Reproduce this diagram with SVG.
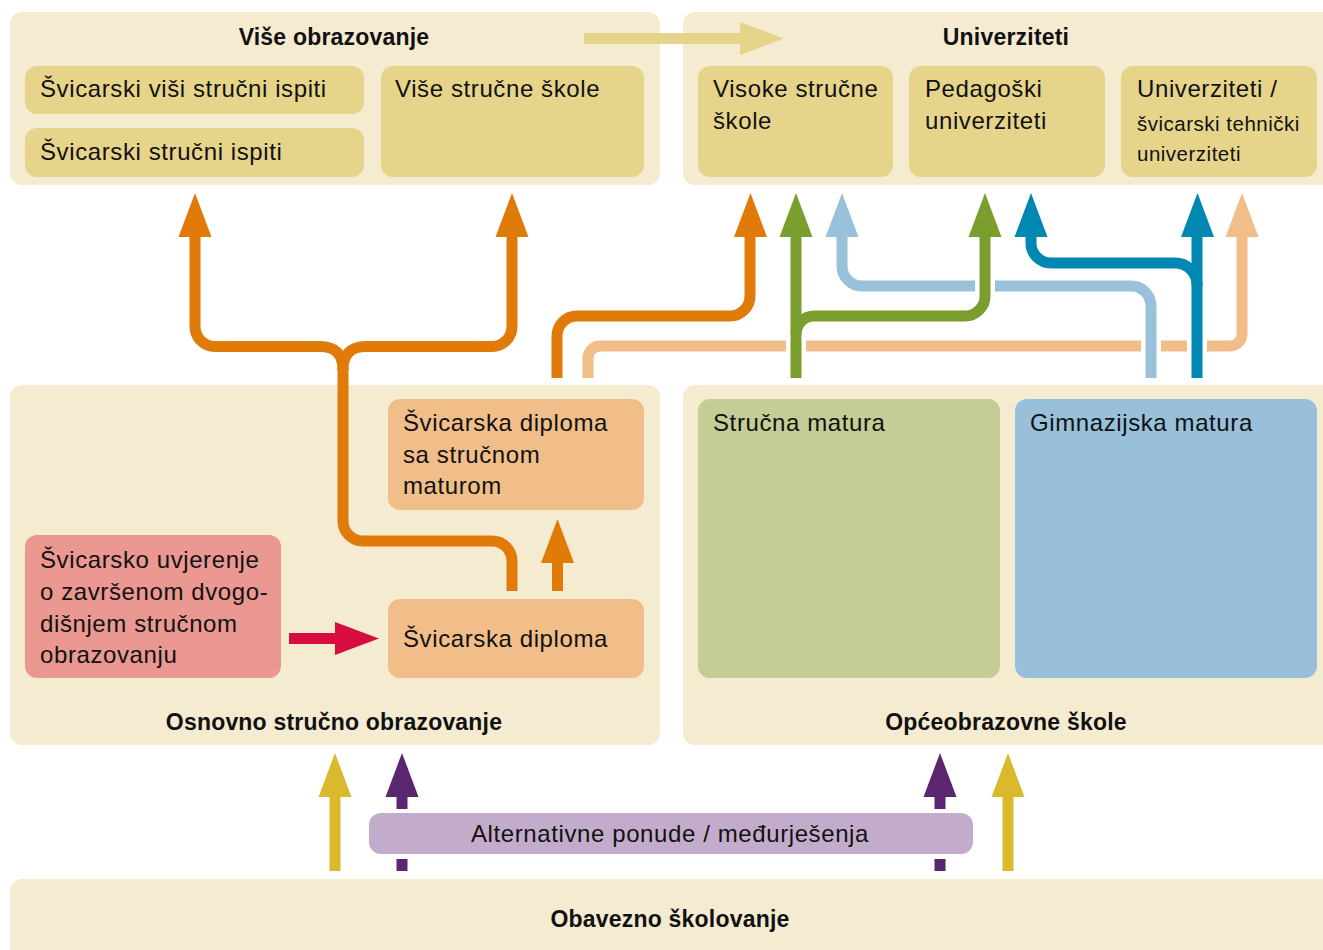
<svg xmlns="http://www.w3.org/2000/svg" xmlns:xlink="http://www.w3.org/1999/xlink" width="1323" height="950" viewBox="0 0 1323 950">
<style>
  text { font-family: "Liberation Sans", Arial, sans-serif; fill: #111; }
  .t { font-size: 24px; letter-spacing: 0.6px; }
  .ts { font-size: 20.5px; letter-spacing: 0.5px; }
  .h { font-size: 23px; font-weight: bold; text-anchor: middle; letter-spacing: 0.2px; }
  .c { text-anchor: middle; }
  .cont { fill: #F5EBD0; }
  .gold { fill: #E7D48B; }
  .peachbox { fill: #F1BE8A; }
  .line { fill: none; stroke-width: 11; stroke-linecap: butt; }
  .halo { fill: none; stroke: #FFFFFF; stroke-width: 20; }
  .or { stroke: #E07B0A; } .pe { stroke: #F1BE8A; } .gr { stroke: #7A9E2E; }
  .lb { stroke: #9AC1DA; } .bl { stroke: #0088B3; } .ye { stroke: #DAB92D; }
  .pu { stroke: #5B2670; } .rd { stroke: #D60D3E; } .go { stroke: #E7D48B; }
</style>
<defs>
  <path id="head" d="M0,0 L16.5,44 L-16.5,44 Z"/>
</defs>

<g id="vise-obrazovanje">
  <rect class="cont" x="10" y="12" width="650" height="173" rx="12"/>
  <text class="h" x="334" y="45">Više obrazovanje</text>
</g>
<g id="visi-strucni-ispiti">
  <rect class="gold" x="25" y="66" width="339" height="48" rx="12"/>
  <text class="t" x="40" y="97">Švicarski viši stručni ispiti</text>
</g>
<g id="strucni-ispiti">
  <rect class="gold" x="25" y="128" width="339" height="49" rx="12"/>
  <text class="t" x="40" y="160">Švicarski stručni ispiti</text>
</g>
<g id="vise-strucne-skole">
  <rect class="gold" x="381" y="66" width="263" height="111" rx="12"/>
  <text class="t" x="395" y="97">Više stručne škole</text>
</g>

<g id="univerziteti">
  <rect class="cont" x="683" y="12" width="660" height="173" rx="12"/>
  <text class="h" x="1006" y="45">Univerziteti</text>
</g>
<g id="visoke-strucne-skole">
  <rect class="gold" x="698" y="66" width="195" height="111" rx="12"/>
  <text class="t" x="713" y="97">Visoke stručne</text>
  <text class="t" x="713" y="129">škole</text>
</g>
<g id="pedagoski-univerziteti">
  <rect class="gold" x="909" y="66" width="196" height="111" rx="12"/>
  <text class="t" x="925" y="97">Pedagoški</text>
  <text class="t" x="925" y="129">univerziteti</text>
</g>
<g id="univerziteti-eth">
  <rect class="gold" x="1121" y="66" width="196" height="111" rx="12"/>
  <text class="t" x="1137" y="97">Univerziteti /</text>
  <text class="ts" x="1137" y="131">švicarski tehnički</text>
  <text class="ts" x="1137" y="161">univerziteti</text>
</g>

<g id="osnovno-strucno-obrazovanje">
  <rect class="cont" x="10" y="385" width="650" height="360" rx="12"/>
  <text class="h" x="334" y="730">Osnovno stručno obrazovanje</text>
</g>
<g id="diploma-matura">
  <rect class="peachbox" x="388" y="399" width="256" height="111" rx="12"/>
  <text class="t" x="403" y="431">Švicarska diploma</text>
  <text class="t" x="403" y="463">sa stručnom</text>
  <text class="t" x="403" y="494">maturom</text>
</g>
<g id="uvjerenje">
  <rect x="25" y="535" width="256" height="143" rx="12" fill="#EA9891"/>
  <text class="t" x="40" y="568">Švicarsko uvjerenje</text>
  <text class="t" x="40" y="600">o završenom dvogo-</text>
  <text class="t" x="40" y="632">dišnjem stručnom</text>
  <text class="t" x="40" y="663">obrazovanju</text>
</g>
<g id="diploma">
  <rect class="peachbox" x="388" y="599" width="256" height="79" rx="12"/>
  <text class="t" x="403" y="647">Švicarska diploma</text>
</g>

<g id="opceobrazovne-skole">
  <rect class="cont" x="683" y="385" width="660" height="360" rx="12"/>
  <text class="h" x="1006" y="730">Općeobrazovne škole</text>
</g>
<g id="strucna-matura">
  <rect x="698" y="399" width="302" height="279" rx="12" fill="#C3CD95"/>
  <text class="t" x="713" y="431">Stručna matura</text>
</g>
<g id="gimnazijska-matura">
  <rect x="1015" y="399" width="302" height="279" rx="12" fill="#99C0DA"/>
  <text class="t" x="1030" y="431">Gimnazijska matura</text>
</g>

<g id="obavezno-skolovanje">
  <rect class="cont" x="10" y="879" width="1340" height="100" rx="12"/>
  <text class="h" x="670" y="927">Obavezno školovanje</text>
</g>
<g id="alternativne-ponude">
  <rect x="369" y="813" width="604" height="41" rx="12" fill="#C3ACCB"/>
  <text class="t c" x="670" y="842">Alternativne ponude / međurješenja</text>
</g>

<g id="connectors">
  <!-- top horizontal arrow -->
  <line class="line go" x1="584" y1="38.5" x2="741" y2="38.5"/>
  <use href="#head" transform="translate(784,38.5) rotate(90)" fill="#E7D48B"/>

  <!-- orange tree from Švicarska diploma -->
  <path class="line or" d="M512,591 V561 A20,20 0 0 0 492,541 H363 A20,20 0 0 1 343,521 V368"/>
  <path class="line or" d="M343,370 Q343,346.5 320,346.5 H215 A20,20 0 0 1 195,326.5 V236"/>
  <path class="line or" d="M343,370 Q343,346.5 366,346.5 H492 A20,20 0 0 0 512,326.5 V236"/>
  <use href="#head" x="195" y="193" fill="#E07B0A"/>
  <use href="#head" x="512" y="193" fill="#E07B0A"/>

  <!-- small orange up arrow -->
  <line class="line or" x1="557.5" y1="591" x2="557.5" y2="562"/>
  <use href="#head" x="557.5" y="519" fill="#E07B0A"/>

  <!-- red arrow -->
  <line class="line rd" x1="289" y1="638.5" x2="336" y2="638.5"/>
  <use href="#head" transform="translate(379,638.5) rotate(90)" fill="#D60D3E"/>

  <!-- peach path -->
  <path class="line pe" d="M588,378 V358 A12,12 0 0 1 600,346 H1230 A12,12 0 0 0 1242,334 V236"/>
  <use href="#head" x="1242" y="193" fill="#F1BE8A"/>

  <!-- orange to Visoke -->
  <path class="line or" d="M557,378 V336 A20,20 0 0 1 577,316 H730 A20,20 0 0 0 750,296 V236"/>
  <use href="#head" x="750.5" y="193" fill="#E07B0A"/>

  <!-- light blue -->
  <line class="halo" x1="1151" y1="338" x2="1151" y2="354"/>
  <path class="line lb" d="M1151,378 V306 A20,20 0 0 0 1131,286 H862 A20,20 0 0 1 842,266 V236"/>
  <use href="#head" x="842" y="193" fill="#9AC1DA"/>

  <!-- green -->
  <line class="halo" x1="796" y1="338" x2="796" y2="354"/>
  <line class="halo" x1="985" y1="278" x2="985" y2="294"/>
  <line class="line gr" x1="796" y1="378" x2="796" y2="236"/>
  <path class="line gr" d="M796,334 A18,18 0 0 1 814,316 H965 A20,20 0 0 0 985,296 V236"/>
  <use href="#head" x="796" y="193" fill="#7A9E2E"/>
  <use href="#head" x="985" y="193" fill="#7A9E2E"/>

  <!-- blue -->
  <line class="halo" x1="1197" y1="338" x2="1197" y2="354"/>
  <line class="line bl" x1="1197" y1="378" x2="1197" y2="236"/>
  <path class="line bl" d="M1197,286 A22,22 0 0 0 1175,263 H1051 A20,20 0 0 1 1031,243 V236"/>
  <use href="#head" x="1197.5" y="193" fill="#0088B3"/>
  <use href="#head" x="1031" y="193" fill="#0088B3"/>

  <!-- bottom arrows -->
  <line class="line ye" x1="335" y1="871" x2="335" y2="796"/>
  <use href="#head" x="335" y="753" fill="#DAB92D"/>
  <line class="line ye" x1="1008" y1="871" x2="1008" y2="796"/>
  <use href="#head" x="1008" y="753" fill="#DAB92D"/>
  <line class="line pu" x1="402" y1="871" x2="402" y2="859"/>
  <line class="line pu" x1="402" y1="809" x2="402" y2="796"/>
  <use href="#head" x="402" y="753" fill="#5B2670"/>
  <line class="line pu" x1="940" y1="871" x2="940" y2="859"/>
  <line class="line pu" x1="940" y1="809" x2="940" y2="796"/>
  <use href="#head" x="940" y="753" fill="#5B2670"/>
</g>
</svg>
